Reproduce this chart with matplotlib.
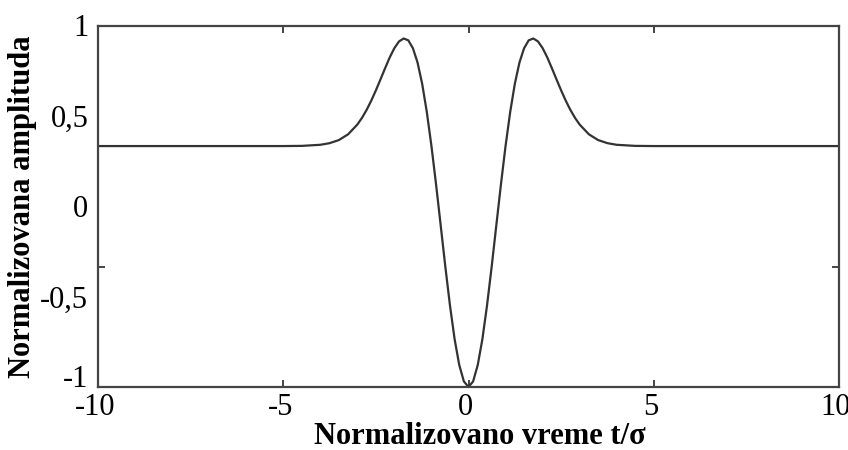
import matplotlib
matplotlib.use("Agg")
import matplotlib.pyplot as plt
from matplotlib.ticker import FixedLocator, FixedFormatter
from matplotlib.transforms import ScaledTranslation

plt.rcParams['font.family'] = ['Liberation Serif', 'DejaVu Serif']

# Normalized time t/sigma and normalized amplitude
t_vals = [-10.0, -5.0, -4.5, -4.0, -3.75, -3.5, -3.25, -3.0, -2.875, -2.75, -2.625, -2.5,
          -2.375, -2.25, -2.125, -2.0, -1.875, -1.75, -1.625, -1.5, -1.375, -1.25,
          -1.125, -1.0, -0.875, -0.75, -0.625, -0.5, -0.375, -0.25, -0.125, 0.0,
          0.125, 0.25, 0.375, 0.5, 0.625, 0.75, 0.875, 1.0, 1.125, 1.25, 1.375,
          1.5, 1.625, 1.75, 1.875, 2.0, 2.125, 2.25, 2.375, 2.5, 2.625, 2.75,
          2.875, 3.0, 3.25, 3.5, 3.75, 4.0, 4.5, 5.0, 10.0]
amp_vals = [0.333, 0.333, 0.334, 0.340, 0.349, 0.366, 0.398, 0.452, 0.489, 0.533, 0.584, 0.641,
            0.702, 0.764, 0.824, 0.875, 0.912, 0.928, 0.918, 0.874, 0.795, 0.677,
            0.521, 0.333, 0.120, -0.107, -0.335, -0.549, -0.735, -0.878, -0.969, -1.0,
            -0.969, -0.878, -0.735, -0.549, -0.335, -0.107, 0.120, 0.333, 0.521, 0.677, 0.795,
            0.874, 0.918, 0.928, 0.912, 0.875, 0.824, 0.764, 0.702, 0.641, 0.584, 0.533,
            0.489, 0.452, 0.398, 0.366, 0.349, 0.340, 0.334, 0.333, 0.333]

x_ticks = [-10, -5, 0, 5, 10]
x_tick_labels = ['-10', '-5', '0', '5', '10']
y_label_pos = [-1, -0.5, 0, 0.5, 1]
y_label_text = ['-1', '-0,5', '0', '0,5', '1']
y_tick_marks = [-1/3, 1/3]

xlabel = 'Normalizovano vreme t/σ'
ylabel = 'Normalizovana amplituda'

fig = plt.figure(figsize=(8.48, 4.5), dpi=100)
ax = fig.add_axes([98/848, 1 - 387/450, (839 - 98)/848, (387 - 25.5)/450])

ax.plot(t_vals, amp_vals, color='#333333', lw=1.6)
ax.set_xlim(-10, 10)
ax.set_ylim(-1, 1)

spine_col = '#444444'
for s in ax.spines.values():
    s.set_color(spine_col)
    s.set_linewidth(1.6)

ax.xaxis.set_major_locator(FixedLocator(x_ticks))
ax.xaxis.set_major_formatter(FixedFormatter(x_tick_labels))
ax.tick_params(axis='x', which='major', direction='in', length=5, width=1.4,
               color=spine_col, top=True, bottom=True, labelsize=22, pad=4)

ax.yaxis.set_major_locator(FixedLocator(y_label_pos))
ax.yaxis.set_major_formatter(FixedFormatter(y_label_text))
ax.yaxis.set_minor_locator(FixedLocator(y_tick_marks))
ax.tick_params(axis='y', which='major', length=0, labelsize=22, pad=7)
ax.tick_params(axis='y', which='minor', direction='in', length=5, width=1.4,
               color=spine_col, left=True, right=True)

ax.set_xlabel(xlabel, fontsize=22, fontweight='bold', labelpad=0)
ax.set_ylabel(ylabel, fontsize=22, fontweight='bold', labelpad=2)
ax.xaxis.label.set_x(0.515)

fig.canvas.draw()
shift = ScaledTranslation(-3/100, 0, fig.dpi_scale_trans)
for lab in ax.get_xticklabels():
    lab.set_transform(lab.get_transform() + shift)
ax.get_yticklabels()[0].set_verticalalignment('baseline')

fig.savefig('out.png', dpi=100)
